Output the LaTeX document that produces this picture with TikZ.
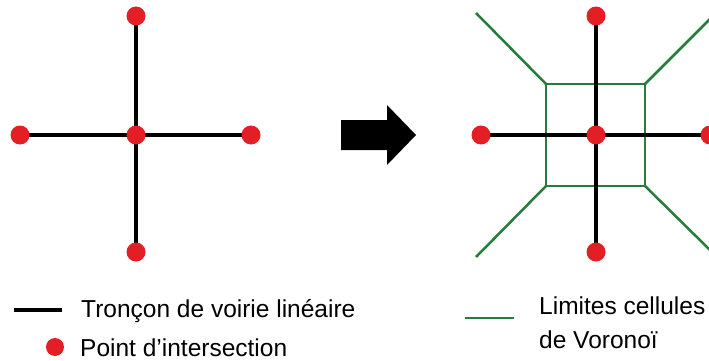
\documentclass[tikz,border=0pt]{standalone}
\usepackage{fontspec}
\setmainfont{Liberation Sans}
\usetikzlibrary{backgrounds}
\definecolor{dotred}{RGB}{228,30,37}
\definecolor{vgreen}{RGB}{38,124,58}
\tikzset{
  dot/.style={circle,fill=dotred,draw=none,minimum size=19pt,inner sep=0pt},
  legdot/.style={circle,fill=dotred,draw=none,minimum size=18pt,inner sep=0pt},
  road/.style={line width=4pt,black},
  cell/.style={line width=2.5pt,vgreen},
  lbl/.style={anchor=base west,inner sep=0pt,font=\fontsize{24.5pt}{28pt}\selectfont},
  bigarrow/.style={fill=black,draw=none}
}
\begin{document}
\begin{tikzpicture}[x=1pt,y=-1pt]
\useasboundingbox (0,0) rectangle (709,361);
\clip (0,0) rectangle (709,361);
% left network
\node[dot] (lc) at (136,135) {};
\node[dot] (lt) at (136,16) {};
\node[dot] (lb) at (136,252) {};
\node[dot] (ll) at (20,135) {};
\node[dot] (lr) at (251,135) {};
\begin{scope}[on background layer]
\draw[road] (lt.center) -- (lb.center);
\draw[road] (ll.center) -- (lr.center);
\end{scope}
% arrow
\coordinate (a1) at (341,120);
\coordinate (a2) at (387,120);
\coordinate (a3) at (387,105);
\coordinate (a4) at (416,135);
\coordinate (a5) at (387,165);
\coordinate (a6) at (387,150);
\coordinate (a7) at (341,150);
\fill[bigarrow] (a1) -- (a2) -- (a3) -- (a4) -- (a5) -- (a6) -- (a7) -- cycle;
% right network
\coordinate (sq1) at (546,84);
\coordinate (sq2) at (645,84);
\coordinate (sq3) at (645,186);
\coordinate (sq4) at (546,186);
\coordinate (e1) at (476,13);
\coordinate (e2) at (712,17);
\coordinate (e3) at (712,252);
\coordinate (e4) at (476,257);
\node[dot] (rc) at (596,135) {};
\node[dot] (rt) at (596,16) {};
\node[dot] (rb) at (596,252) {};
\node[dot] (rl) at (481,135) {};
\node[dot] (rr) at (710,135) {};
\begin{scope}[on background layer]
\draw[cell] (sq1) -- (sq2) -- (sq3) -- (sq4) -- cycle;
\draw[cell] (sq1) -- (e1);
\draw[cell] (sq2) -- (e2);
\draw[cell] (sq3) -- (e3);
\draw[cell] (sq4) -- (e4);
\draw[road] (rt.center) -- (rb.center);
\draw[road] (rl.center) -- (rr.center);
\end{scope}
% legend
\coordinate (k1) at (14,310);
\coordinate (k2) at (62,310);
\draw[road,line width=3.5pt] (k1) -- (k2);
\node[lbl] (t1) at (81,317) {Tronçon de voirie linéaire};
\node[legdot] (kd) at (55,347) {};
\node[lbl] (t2) at (80,356) {Point d’intersection};
\coordinate (g1) at (465,318);
\coordinate (g2) at (514,318);
\draw[cell] (g1) -- (g2);
\node[lbl] (t3) at (539,314) {Limites cellules};
\node[lbl] (t4) at (539,348) {de Voronoï};
\end{tikzpicture}
\end{document}
